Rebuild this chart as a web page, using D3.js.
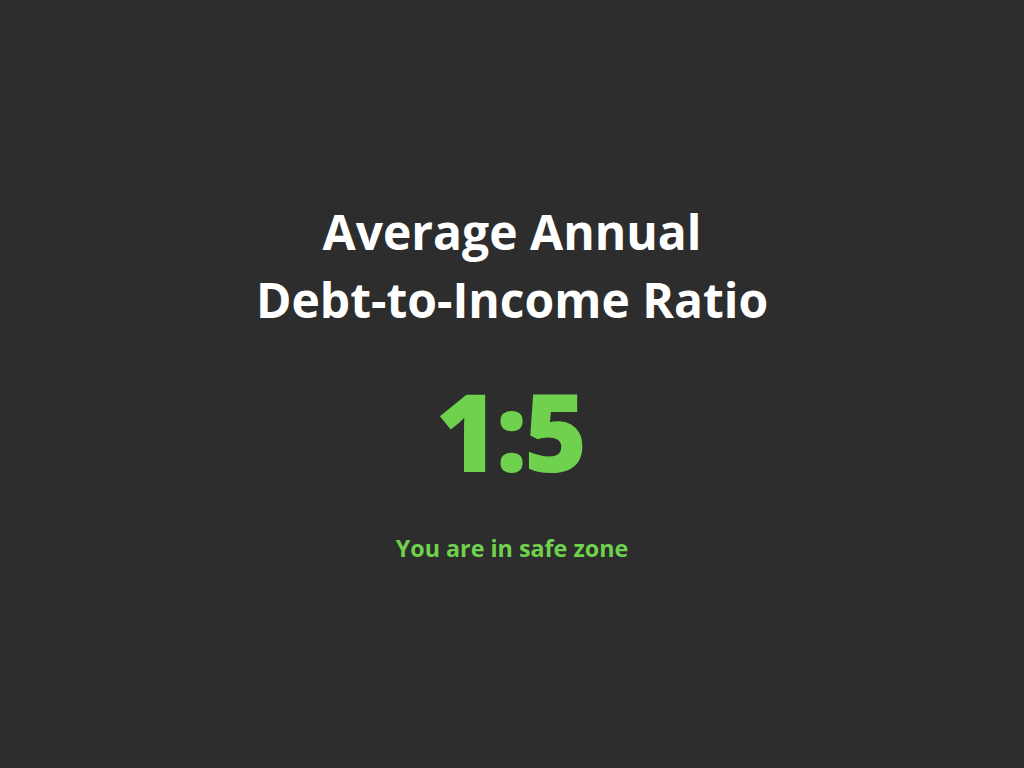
<!DOCTYPE html>
<html>
<head>
<meta charset="utf-8">
<script src="https://cdn.jsdelivr.net/npm/d3@7"></script>
<style>
  html, body { margin: 0; padding: 0; background: #2d2d2d; }
  svg { display: block; }
</style>
</head>
<body>
<svg width="1024" height="768"></svg>
<script>
// values shown on the card
var titleLines = ['Average Annual', 'Debt-to-Income Ratio'];
var ratioParts = [1, 5];
var message = ['You are in safe zone'];

var svg = d3.select('svg');

svg.append('rect')
    .attr('width', 1024)
    .attr('height', 768)
    .style('fill', '#2d2d2d');

svg.selectAll('.title')
    .data(titleLines)
    .enter().append('text')
    .attr('class', 'title')
    .attr('x', 512)
    .attr('y', function(d, i){ return 250 + i * 68; })
    .attr('text-anchor', 'middle')
    .style('font-family', '"Open Sans", sans-serif')
    .style('font-weight', '700')
    .style('font-size', '48px')
    .style('fill', '#ffffff')
    .text(function(d){ return d; });

svg.append('text')
    .attr('x', 510)
    .attr('y', 472)
    .attr('text-anchor', 'middle')
    .style('font-family', '"Open Sans", sans-serif')
    .style('font-weight', '800')
    .style('font-size', '108px')
    .style('letter-spacing', '-3px')
    .style('fill', '#6fd14d')
    .text(ratioParts.join(':'));

svg.selectAll('.msg')
    .data(message)
    .enter().append('text')
    .attr('class', 'msg')
    .attr('x', 512)
    .attr('y', 557)
    .attr('text-anchor', 'middle')
    .style('font-family', '"Open Sans", sans-serif')
    .style('font-weight', '700')
    .style('font-size', '23.3px')
    .style('fill', '#6fd14d')
    .text(function(d){ return d; });
</script>
</body>
</html>
